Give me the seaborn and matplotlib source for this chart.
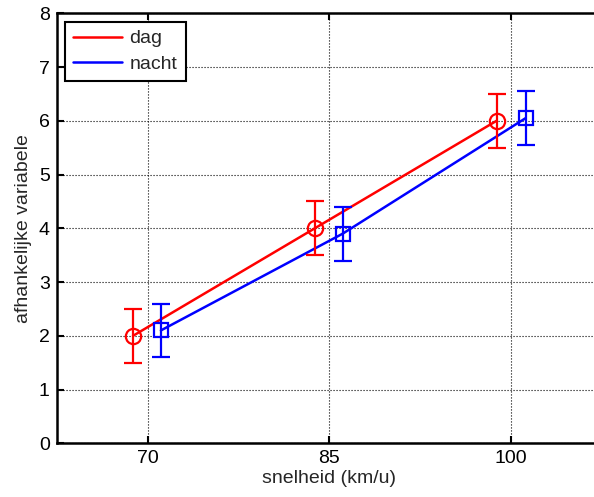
import numpy as np
import pandas as pd
import matplotlib
matplotlib.use("Agg")
import matplotlib.pyplot as plt
import seaborn as sns
from matplotlib.lines import Line2D

# Data
snelheid = [70, 85, 100]
dag_x = [68.8, 83.8, 98.8]
dag_y = [2.0, 4.0, 6.0]
dag_err = [0.5, 0.5, 0.5]
nacht_x = [71.1, 86.1, 101.2]
nacht_y = [2.1, 3.9, 6.05]
nacht_err = [0.5, 0.5, 0.5]
yticks = [0, 1, 2, 3, 4, 5, 6, 7, 8]

sns.set_style("white")
plt.rcParams['font.family'] = ['Liberation Sans', 'DejaVu Sans']
FS = 14

fig = plt.figure(figsize=(5.94, 4.97), dpi=100)
ax = fig.add_axes([56.7 / 594, 1 - 443.3 / 497, (602 - 56.7) / 594, (443.3 - 13.3) / 497])

df = pd.concat([
    pd.DataFrame({"x": dag_x, "y": dag_y, "groep": "dag"}),
    pd.DataFrame({"x": nacht_x, "y": nacht_y, "groep": "nacht"}),
])
palette = {"dag": "#ff0000", "nacht": "#0000ff"}
sns.lineplot(data=df, x="x", y="y", hue="groep", palette=palette, ax=ax,
             linewidth=1.8, legend=False, sort=False, estimator=None)

ax.errorbar(dag_x, dag_y, yerr=dag_err, fmt="o", color="#ff0000", mfc="none",
            mec="#ff0000", ms=11, mew=1.6, elinewidth=1.6, capsize=6.3, capthick=1.6)
ax.errorbar(nacht_x, nacht_y, yerr=nacht_err, fmt="s", color="#0000ff", mfc="none",
            mec="#0000ff", ms=9.5, mew=1.6, elinewidth=1.6, capsize=6.8, capthick=1.6)

ax.set_xlim(62.5, 107.5)
ax.set_ylim(0, 8)
ax.set_xticks(snelheid)
ax.set_yticks(yticks)
ax.set_xticklabels([str(v) for v in snelheid])
ax.grid(True, linestyle=(0, (1, 1.7)), color="black", linewidth=0.8)
ax.tick_params(direction="in", length=5, width=1.5, labelsize=FS, colors="black",
               bottom=True, left=True, top=True, right=True, pad=5)
for s in ax.spines.values():
    s.set_linewidth(1.8)
    s.set_color("black")

ax.set_xlabel("snelheid (km/u)", fontsize=FS, labelpad=2)
ax.set_ylabel("afhankelijke variabele", fontsize=FS, labelpad=5)

handles = [Line2D([0], [0], color="#ff0000", lw=1.8),
           Line2D([0], [0], color="#0000ff", lw=1.8)]
leg = ax.legend(handles, ["dag", "nacht"], loc="upper left", fontsize=FS,
                fancybox=False, framealpha=1, edgecolor="black",
                handlelength=2.5, borderpad=0.42, labelspacing=0.42,
                borderaxespad=0, bbox_to_anchor=(0.0152, 0.9805), handletextpad=0.4)
leg.get_frame().set_linewidth(1.5)

fig.savefig("out.png", dpi=100)
